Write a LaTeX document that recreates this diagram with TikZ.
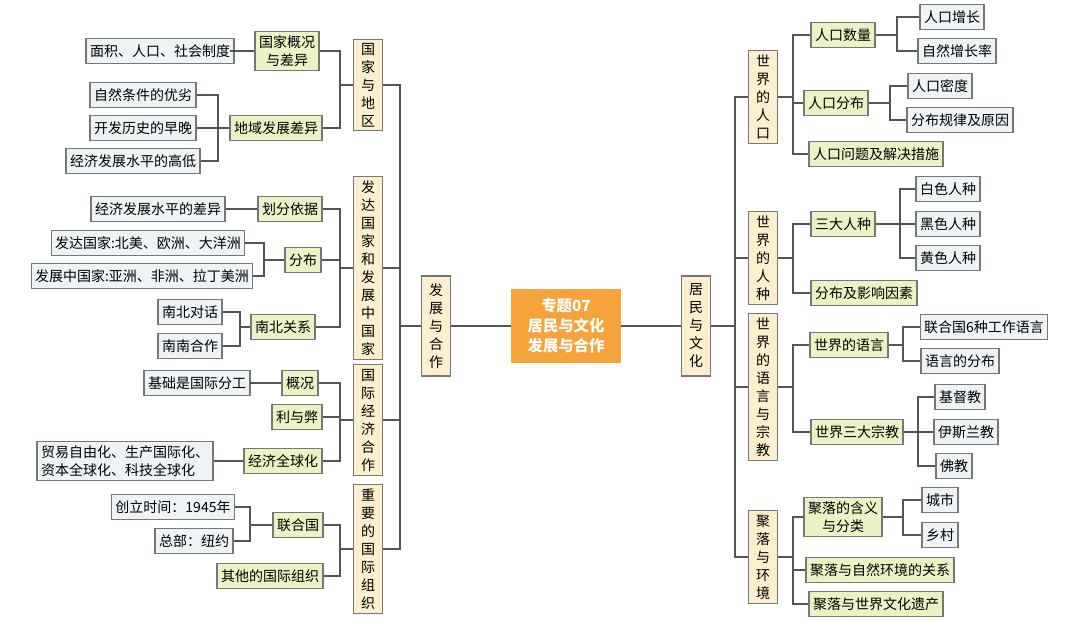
\documentclass[tikz,border=0pt]{standalone}
\usepackage{fontspec}
\setmainfont{Noto Sans CJK SC}
\definecolor{lvone}{HTML}{FBEFCF}
\definecolor{lvtwo}{HTML}{EAF2C6}
\definecolor{lvthree}{HTML}{EEF3F6}
\definecolor{rootc}{HTML}{F5A33A}
\definecolor{edgec}{HTML}{555555}
\tikzset{
  box/.style={draw=edgec!80, line width=0.8pt, inner sep=3pt, minimum height=19pt, align=center,
    font=\fontsize{10.5}{13.5}\selectfont},
  topic/.style={box, fill=lvone, minimum width=22pt},
  sub/.style={box, fill=lvtwo},
  leaf/.style={box, fill=lvthree},
  link/.style={draw=edgec, line width=0.9pt}
}
\newcommand\rlink[3]{\draw[link] (#1.east) -- (#2,0 |- #1.east) |- (#3.west);}
\newcommand\llink[3]{\draw[link] (#1.west) -- (#2,0 |- #1.west) |- (#3.east);}
\begin{document}
\begin{tikzpicture}[x=0.75pt, y=-0.75pt]
  \useasboundingbox (0,0) rectangle (1080,623);
  % 中心
  \node[fill=rootc, text=white, font=\fontsize{11.5}{15}\selectfont\bfseries, align=center,
    minimum width=82pt, minimum height=55pt] (root) at (566,326) {专题07\\居民与文化\\发展与合作};
  \node[topic, minimum height=75pt] (jumin) at (696,326) {居\\民\\与\\文\\化};
  \node[topic, minimum height=75pt] (fazhan) at (436,326) {发\\展\\与\\合\\作};
  \draw[link] (root) -- (jumin);
  \draw[link] (root) -- (fazhan);

  % 居民与文化
  \node[topic] (renkou) at (763,97) {世\\界\\的\\人\\口};
  \node[topic] (renzhong) at (763,258) {世\\界\\的\\人\\种};
  \node[topic] (yuyan) at (763,387) {世\\界\\的\\语\\言\\与\\宗\\教};
  \node[topic] (juluo) at (763,557) {聚\\落\\与\\环\\境};
  \foreach \t in {renkou,renzhong,yuyan,juluo} {\rlink{jumin}{735}{\t}}

  \node[sub] (shuliang) at (843,35) {人口数量};
  \node[sub] (fenbu) at (836,103) {人口分布};
  \node[sub] (wenti) at (876,154) {人口问题及解决措施};
  \foreach \t in {shuliang,fenbu,wenti} {\rlink{renkou}{793}{\t}}
  \node[leaf] (zengzhang) at (952,17) {人口增长};
  \node[leaf] (zzlv) at (957,51) {自然增长率};
  \rlink{shuliang}{897}{zengzhang} \rlink{shuliang}{897}{zzlv}
  \node[leaf] (midu) at (940,86) {人口密度};
  \node[leaf] (guilv) at (960,120) {分布规律及原因};
  \rlink{fenbu}{890}{midu} \rlink{fenbu}{890}{guilv}

  \node[sub] (sanda) at (843,224) {三大人种};
  \node[sub] (yinsu) at (864,293) {分布及影响因素};
  \rlink{renzhong}{793}{sanda} \rlink{renzhong}{793}{yinsu}
  \node[leaf] (bai) at (948,189) {白色人种};
  \node[leaf] (hei) at (948,224) {黑色人种};
  \node[leaf] (huang) at (948,258) {黄色人种};
  \foreach \t in {bai,hei,huang} {\rlink{sanda}{900}{\t}}

  \node[sub] (yy) at (849,345) {世界的语言};
  \node[sub] (zj) at (857,432) {世界三大宗教};
  \rlink{yuyan}{793}{yy} \rlink{yuyan}{793}{zj}
  \node[leaf] (lhg) at (984,327) {联合国6种工作语言};
  \node[leaf] (yyfb) at (960,361) {语言的分布};
  \rlink{yy}{903}{lhg} \rlink{yy}{903}{yyfb}
  \node[leaf] (jd) at (960,397) {基督教};
  \node[leaf] (ysl) at (966,432) {伊斯兰教};
  \node[leaf] (fo) at (954,466) {佛教};
  \foreach \t in {jd,ysl,fo} {\rlink{zj}{918}{\t}}

  \node[sub] (hanyi) at (843,517) {聚落的含义\\与分类};
  \node[sub] (ziran) at (880,570) {聚落与自然环境的关系};
  \node[sub] (yichan) at (876,604) {聚落与世界文化遗产};
  \foreach \t in {hanyi,ziran,yichan} {\rlink{juluo}{793}{\t}}
  \node[leaf] (cs) at (940,500) {城市};
  \node[leaf] (xc) at (940,535) {乡村};
  \rlink{hanyi}{903}{cs} \rlink{hanyi}{903}{xc}

  % 发展与合作
  \node[topic] (guojia) at (368,85) {国\\家\\与\\地\\区};
  \node[topic] (fada) at (368,268) {发\\达\\国\\家\\和\\发\\展\\中\\国\\家};
  \node[topic] (jingji) at (368,420) {国\\际\\经\\济\\合\\作};
  \node[topic] (zuzhi) at (368,549) {重\\要\\的\\国\\际\\组\\织};
  \foreach \t in {guojia,fada,jingji,zuzhi} {\llink{fazhan}{400}{\t}}

  \node[sub] (gaikuang) at (287,51) {国家概况\\与差异};
  \node[sub] (diyu) at (276,128) {地域发展差异};
  \llink{guojia}{340}{gaikuang} \llink{guojia}{340}{diyu}
  \node[leaf] (mianji) at (160,51) {面积、人口、社会制度};
  \llink{gaikuang}{230}{mianji}
  \node[leaf] (youlie) at (143,95) {自然条件的优劣};
  \node[leaf] (zaowan) at (143,128) {开发历史的早晚};
  \node[leaf] (gaodi) at (133,161) {经济发展水平的高低};
  \foreach \t in {youlie,zaowan,gaodi} {\llink{diyu}{218}{\t}}

  \node[sub] (huafen) at (290,209) {划分依据};
  \node[sub] (fb) at (303,260) {分布};
  \node[sub] (nanbei) at (283,327) {南北关系};
  \foreach \t in {huafen,fb,nanbei} {\llink{fada}{340}{\t}}
  \node[leaf] (chayi) at (158,209) {经济发展水平的差异};
  \llink{huafen}{240}{chayi}
  \node[leaf] (fdgj) at (148,243) {发达国家:北美、欧洲、大洋洲};
  \node[leaf] (fzgj) at (142,276) {发展中国家:亚洲、非洲、拉丁美洲};
  \llink{fb}{264}{fdgj} \llink{fb}{264}{fzgj}
  \node[leaf] (nbdh) at (190,312) {南北对话};
  \node[leaf] (nnhz) at (190,346) {南南合作};
  \llink{nanbei}{240}{nbdh} \llink{nanbei}{240}{nnhz}

  \node[sub] (gk) at (300,383) {概况};
  \node[sub] (lb) at (297,417) {利与弊};
  \node[sub] (qqh) at (283,461) {经济全球化};
  \foreach \t in {gk,lb,qqh} {\llink{jingji}{340}{\t}}
  \node[leaf] (fengong) at (197,383) {基础是国际分工};
  \llink{gk}{250}{fengong}
  \node[leaf, align=left] (maoyi) at (125,461) {贸易自由化、生产国际化、\\资本全球化、科技全球化};
  \llink{qqh}{225}{maoyi}

  \node[sub] (lhgo) at (298,525) {联合国};
  \node[sub] (qita) at (270,576) {其他的国际组织};
  \llink{zuzhi}{340}{lhgo} \llink{zuzhi}{340}{qita}
  \node[leaf] (chuangli) at (173,507) {创立时间：1945年};
  \node[leaf] (zongbu) at (194,541) {总部：纽约};
  \llink{lhgo}{250}{chuangli} \llink{lhgo}{250}{zongbu}
\end{tikzpicture}
\end{document}
